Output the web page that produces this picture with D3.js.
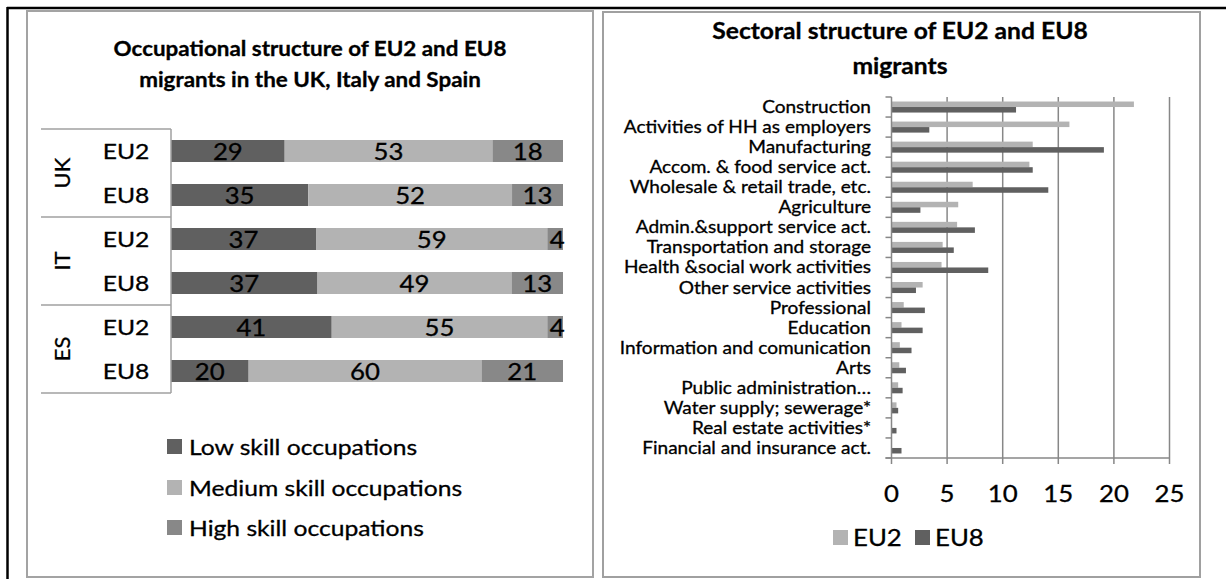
<!DOCTYPE html>
<html><head><meta charset="utf-8">
<script src="https://cdn.jsdelivr.net/npm/d3@7"></script>
<style>
html,body{margin:0;padding:0;background:#fff;}
svg{display:block;font-family:Lato,"Open Sans",sans-serif;}
text.w{stroke:#000;stroke-width:0.3px;}
</style></head>
<body>
<svg id="c" width="1226" height="579"></svg>
<script>
// ---------- data ----------
const countries = ["UK", "IT", "ES"];
const groups = ["EU2", "EU8"];
const skillNames = ["Low skill occupations", "Medium skill occupations", "High skill occupations"];
const lowSkill    = [29, 35, 37, 37, 41, 20];
const mediumSkill = [53, 52, 59, 49, 55, 60];
const highSkill   = [18, 13, 4, 13, 4, 21];

const sectors = ["Construction", "Activities of HH as employers", "Manufacturing",
  "Accom. & food service act.", "Wholesale & retail trade, etc.", "Agriculture",
  "Admin.&support service act.", "Transportation and storage", "Health &social work activities",
  "Other service activities", "Professional", "Education", "Information and comunication",
  "Arts", "Public administration\u2026", "Water supply; sewerage*", "Real estate activities*",
  "Financial and insurance act."];
const eu2Values = [21.8, 16.0, 12.7, 12.4, 7.3, 6.0, 5.9, 4.6, 4.5, 2.8, 1.1, 0.9, 0.75, 0.7, 0.6, 0.45, 0, 0];
const eu8Values = [11.2, 3.4, 19.1, 12.7, 14.1, 2.6, 7.5, 5.6, 8.7, 2.2, 3.0, 2.8, 1.8, 1.3, 1.0, 0.6, 0.45, 0.9];
const xTicks = [0, 5, 10, 15, 20, 25];
const seriesNames = ["EU2", "EU8"];

// ---------- style ----------
const C_LOW = "#606060", C_MED = "#b3b3b3", C_HIGH = "#888888";
const C_EU2 = "#b3b3b3", C_EU8 = "#606060";
const C_LINE = "#a0a0a0", C_GRID = "#878787";
const STRETCH = 1.12;

const svg = d3.select("#c");
svg.append("rect").attr("width", 1226).attr("height", 579).attr("fill", "#fff");

// frames
svg.append("line").attr("x1", 7).attr("x2", 1226).attr("y1", 8).attr("y2", 8).attr("stroke", "#000").attr("stroke-width", 2.5);
svg.append("line").attr("x1", 7.5).attr("x2", 7.5).attr("y1", 7).attr("y2", 579).attr("stroke", "#000").attr("stroke-width", 2.5);
svg.append("rect").attr("x", 27).attr("y", 11).attr("width", 566).attr("height", 566)
  .attr("fill", "none").attr("stroke", "#a3a3a3").attr("stroke-width", 2);
svg.append("rect").attr("x", 603).attr("y", 12).attr("width", 597).attr("height", 565)
  .attr("fill", "none").attr("stroke", "#a0a0a0").attr("stroke-width", 2);

// ================= LEFT CHART =================
const L = svg.append("g");
L.append("text").attr("x", 310).attr("y", 56).attr("text-anchor", "middle").attr("class", "w")
  .attr("font-size", 20).attr("font-weight", "bold").text("Occupational structure of EU2 and EU8");
L.append("text").attr("x", 310).attr("y", 87).attr("text-anchor", "middle").attr("class", "w")
  .attr("font-size", 20).attr("font-weight", "bold").text("migrants in the UK, Italy and Spain");

const rows = [];
countries.forEach((c, i) => groups.forEach((g, j) => rows.push({country: c, group: g, idx: i * 2 + j})));
const rowData = rows.map(r => {
  const vals = [lowSkill[r.idx], mediumSkill[r.idx], highSkill[r.idx]];
  const tot = d3.sum(vals);
  let acc = 0;
  const segs = vals.map((v, k) => { const s = {v, k, x0: acc / tot, x1: (acc + v) / tot}; acc += v; return s; });
  return {...r, segs};
});

const xL = d3.scaleLinear().domain([0, 1]).range([171, 563]);
const yL = d3.scaleBand().domain(rows.map(r => r.idx)).range([129, 393]).paddingInner(0.5).paddingOuter(0.25);
const skillColors = [C_LOW, C_MED, C_HIGH];

const rg = L.selectAll("g.row").data(rowData).join("g").attr("class", "row");
rg.selectAll("rect").data(d => d.segs.map(s => ({...s, idx: d.idx}))).join("rect")
  .attr("x", s => xL(s.x0)).attr("width", s => xL(s.x1) - xL(s.x0))
  .attr("y", s => yL(s.idx)).attr("height", yL.bandwidth())
  .attr("fill", s => skillColors[s.k]);
rg.selectAll("text").data(d => d.segs.map(s => ({...s, idx: d.idx}))).join("text")
  .attr("class", "w")
  .attr("x", s => (xL(s.x0) + xL(s.x1)) / 2 + (s.v < 6 ? 2 : 0))
  .attr("y", s => yL(s.idx) + yL.bandwidth() / 2 + 8.5)
  .attr("text-anchor", "middle").attr("font-size", 23).attr("fill", "#000")
  .text(s => s.v);

// category table lines
const step = yL.step();
const tableTop = 129, tableBottom = 393;
L.append("line").attr("x1", 171).attr("x2", 171).attr("y1", tableTop).attr("y2", tableBottom).attr("stroke", C_LINE).attr("stroke-width", 1.5);
[0, 1, 2, 3].forEach(i => {
  const y = tableTop + i * 2 * step;
  L.append("line").attr("x1", 41).attr("x2", 171).attr("y1", y).attr("y2", y).attr("stroke", C_LINE).attr("stroke-width", 1.5);
});
rows.forEach(r => {
  L.append("text").attr("x", 126).attr("y", yL(r.idx) + yL.bandwidth() / 2 + 8).attr("class", "w")
    .attr("text-anchor", "middle").attr("font-size", 22).text(r.group);
});
countries.forEach((c, i) => {
  const yc = tableTop + (i * 2 + 1) * step;
  L.append("text").attr("transform", `translate(70,${yc}) rotate(-90)`)
    .attr("text-anchor", "middle").attr("font-size", 22).attr("class", "rot w").text(c);
});

// left legend
const legY = [447, 488, 528];
skillNames.forEach((n, k) => {
  L.append("rect").attr("x", 167).attr("y", legY[k] - 8).attr("width", 15).attr("height", 15).attr("fill", skillColors[k]);
  L.append("text").attr("x", 189).attr("y", legY[k] + 8).attr("font-size", 22).attr("class", "w").text(n);
});

// ================= RIGHT CHART =================
const R = svg.append("g");
R.append("text").attr("x", 900).attr("y", 39).attr("text-anchor", "middle").attr("class", "w")
  .attr("font-size", 22).attr("font-weight", "bold").text("Sectoral structure of EU2 and EU8");
R.append("text").attr("x", 900).attr("y", 74).attr("text-anchor", "middle").attr("class", "w")
  .attr("font-size", 22).attr("font-weight", "bold").text("migrants");

const xR = d3.scaleLinear().domain([0, 25]).range([891.5, 1169.5]);
const yR = d3.scaleBand().domain(sectors).range([97, 458]).paddingInner(0.45).paddingOuter(0.225);
const yS = d3.scaleBand().domain(seriesNames).range([0, yR.bandwidth()]);

// gridlines
R.selectAll("line.grid").data(xTicks.slice(1)).join("line").attr("class", "grid")
  .attr("x1", d => xR(d)).attr("x2", d => xR(d)).attr("y1", 97).attr("y2", 464)
  .attr("stroke", C_GRID).attr("stroke-width", 1.5);
// bars
const sd = sectors.map((s, i) => ({s, vals: [eu2Values[i], eu8Values[i]]}));
const sg = R.selectAll("g.sec").data(sd).join("g").attr("class", "sec")
  .attr("transform", d => `translate(0,${yR(d.s)})`);
sg.selectAll("rect").data(d => d.vals.map((v, k) => ({v, k}))).join("rect")
  .attr("x", xR(0)).attr("width", d => xR(d.v) - xR(0))
  .attr("y", d => yS(seriesNames[d.k])).attr("height", yS.bandwidth())
  .attr("fill", d => d.k === 0 ? C_EU2 : C_EU8);

// axes
R.append("line").attr("x1", xR(0)).attr("x2", xR(0)).attr("y1", 97).attr("y2", 464).attr("stroke", C_GRID).attr("stroke-width", 1.5);
R.append("line").attr("x1", xR(0) - 6).attr("x2", xR(25)).attr("y1", 458).attr("y2", 458).attr("stroke", C_GRID).attr("stroke-width", 1.5);
const bounds = sectors.map(s => yR(s) - (yR.step() - yR.bandwidth()) / 2).concat([458]);
R.selectAll("line.ctick").data(bounds).join("line").attr("class", "ctick")
  .attr("x1", xR(0) - 6).attr("x2", xR(0)).attr("y1", d => d).attr("y2", d => d)
  .attr("stroke", C_GRID).attr("stroke-width", 1.5);
R.selectAll("text.xt").data(xTicks).join("text").attr("class", "xt w")
  .attr("x", d => xR(d)).attr("y", 502).attr("text-anchor", "middle").attr("font-size", 23).text(d => d);
R.selectAll("text.cat").data(sectors).join("text").attr("class", "cat w")
  .attr("x", 871).attr("y", d => yR(d) + yR.bandwidth() / 2 + 6)
  .attr("text-anchor", "end").attr("font-size", 17).text(d => d);

// right legend
const legX = [833, 915];
seriesNames.forEach((n, k) => {
  R.append("rect").attr("x", legX[k]).attr("y", 530).attr("width", 15).attr("height", 15).attr("fill", k === 0 ? C_EU2 : C_EU8);
  R.append("text").attr("x", legX[k] + 20).attr("y", 546).attr("font-size", 23).attr("class", "w").text(n);
});

// horizontal stretch of text to mimic the original's wide rendering
svg.selectAll("text").each(function() {
  if (this.classList.contains("rot")) return;
  const w = this.getComputedTextLength();
  this.setAttribute("textLength", w * STRETCH);
  this.setAttribute("lengthAdjust", "spacingAndGlyphs");
});
</script>
</body></html>
